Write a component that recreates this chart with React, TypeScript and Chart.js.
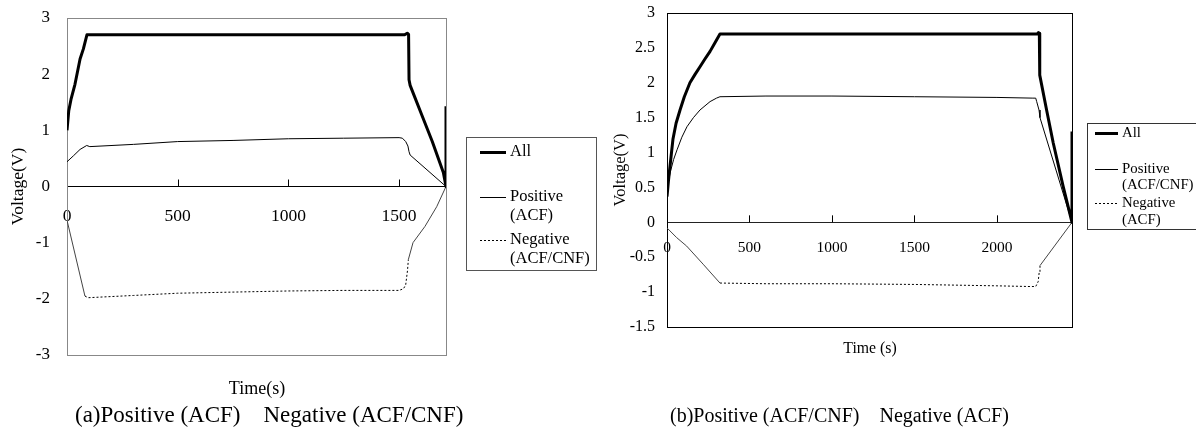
import React, { useEffect, useRef } from 'react';
import { Chart, registerables } from 'chart.js';

Chart.register(...registerables);

const SERIF = "'Liberation Serif', 'Times New Roman', Times, serif";

// ---------- (a) Positive (ACF) / Negative (ACF/CNF) ----------
const timeA_all = [0, 8, 18, 36, 59, 74, 90, 500, 1000, 1525, 1537, 1543, 1545, 1550, 1570, 1600, 1650, 1700, 1712, 1712];
const voltA_all = [1.0, 1.35, 1.55, 1.82, 2.27, 2.45, 2.7, 2.7, 2.7, 2.7, 2.73, 2.71, 1.9, 1.8, 1.6, 1.3, 0.8, 0.25, 0, 1.43];

const timeA_pos = [0, 30, 59, 89, 103, 300, 500, 750, 1000, 1250, 1500, 1515, 1530, 1540, 1545, 1550, 1712];
const voltA_pos = [0.44, 0.55, 0.66, 0.73, 0.71, 0.75, 0.8, 0.82, 0.85, 0.86, 0.87, 0.86, 0.8, 0.72, 0.62, 0.56, 0];

const timeA_neg = [0, 81, 95, 300, 500, 750, 1000, 1250, 1500, 1520, 1530, 1538, 1542, 1563, 1617, 1670, 1712];
const voltA_neg = [-0.6, -1.95, -1.98, -1.94, -1.9, -1.88, -1.86, -1.85, -1.85, -1.82, -1.75, -1.5, -1.3, -1.0, -0.71, -0.36, 0];

const xMaxA = 1712;
const xTicksA = [0, 500, 1000, 1500];
const yTicksA = [-3, -2, -1, 0, 1, 2, 3];

// ---------- (b) Positive (ACF/CNF) / Negative (ACF) ----------
const timeB_all = [0, 9, 18, 36, 55, 79, 105, 139, 170, 200, 230, 261, 290, 321, 800, 1300, 1800, 2245, 2252, 2257, 2258, 2261, 2301, 2341, 2401, 2455, 2455];
const voltB_all = [0.37, 0.6, 0.8, 1.19, 1.42, 1.61, 1.8, 2.0, 2.12, 2.23, 2.34, 2.45, 2.57, 2.7, 2.7, 2.7, 2.7, 2.7, 2.72, 2.71, 2.19, 2.11, 1.61, 1.14, 0.52, 0, 1.3];

const timeB_pos = [0, 10, 20, 40, 61, 90, 121, 160, 200, 261, 300, 321, 600, 1000, 1500, 2000, 2218, 2235, 2241, 2255, 2261, 2455];
const voltB_pos = [0.45, 0.6, 0.72, 0.9, 1.04, 1.22, 1.37, 1.5, 1.61, 1.73, 1.78, 1.8, 1.81, 1.81, 1.8, 1.79, 1.78, 1.78, 1.73, 1.61, 1.5, 0];

const timeB_neg = [0, 59, 119, 219, 321, 600, 1000, 1500, 2000, 2200, 2235, 2250, 2256, 2261, 2455];
const voltB_neg = [-0.08, -0.22, -0.34, -0.6, -0.87, -0.88, -0.88, -0.89, -0.91, -0.92, -0.92, -0.85, -0.72, -0.62, 0];

const xMaxB = 2455;
const xTicksB = [0, 500, 1000, 1500, 2000];
const yTicksB = [-1.5, -1, -0.5, 0, 0.5, 1, 1.5, 2, 2.5, 3];

const toXY = (t: number[], v: number[]) => t.map((x, i) => ({ x, y: v[i] }));

const frameTicksPlugin = {
  id: 'frameTicks',
  beforeDatasetsDraw(chart: any, _a: any, o: any) {
    const { ctx, chartArea: ca, scales } = chart;
    ctx.save();
    ctx.strokeStyle = o.frameColor;
    ctx.lineWidth = o.frameWidth;
    ctx.strokeRect(Math.round(ca.left) + 0.5, Math.round(ca.top) + 0.5, Math.round(ca.right - ca.left), Math.round(ca.bottom - ca.top));
    const y0 = scales.y.getPixelForValue(0);
    ctx.strokeStyle = '#000';
    ctx.lineWidth = 1;
    scales.x.ticks.forEach((t: any) => {
      if (t.value === 0) return;
      const px = Math.round(scales.x.getPixelForValue(t.value)) + 0.5;
      ctx.beginPath();
      ctx.moveTo(px, y0);
      ctx.lineTo(px, y0 - o.tickLen);
      ctx.stroke();
    });
    ctx.restore();
  },
};

const boxLegendPlugin = {
  id: 'boxLegend',
  afterDraw(chart: any, _a: any, o: any) {
    const { ctx } = chart;
    ctx.save();
    ctx.strokeStyle = o.boxColor;
    ctx.lineWidth = 1;
    ctx.setLineDash([]);
    ctx.strokeRect(o.x + 0.5, o.y + 0.5, o.w, o.h);
    ctx.font = o.font;
    ctx.fillStyle = '#000';
    ctx.textBaseline = 'middle';
    ctx.textAlign = 'left';
    o.items.forEach((it: any) => {
      ctx.beginPath();
      ctx.strokeStyle = '#000';
      ctx.lineWidth = it.width;
      ctx.setLineDash(it.dash);
      ctx.moveTo(o.lineX0, it.ys[0] + 0.5);
      ctx.lineTo(o.lineX1, it.ys[0] + 0.5);
      ctx.stroke();
      it.lines.forEach((s: string, i: number) => ctx.fillText(s, o.textX, it.ys[i]));
    });
    ctx.restore();
  },
};

function buildConfig(c: any): any {
  const solid = (ctx: any) => ctx.p1DataIndex <= c.negHeadEnd || ctx.p0DataIndex >= c.negTailStart;
  return {
    type: 'line',
    data: {
      datasets: [
        { label: 'All', data: c.all, borderColor: '#000', borderWidth: 3, pointRadius: 0, tension: 0, fill: false, borderJoinStyle: 'round' },
        { label: 'Positive', data: c.pos, borderColor: '#000', borderWidth: 1, pointRadius: 0, tension: 0, fill: false },
        {
          label: 'Negative',
          data: c.neg,
          borderColor: '#000',
          borderWidth: 1,
          pointRadius: 0,
          tension: 0,
          fill: false,
          segment: {
            borderDash: (ctx: any) => (solid(ctx) ? [] : [2, 2]),
            borderColor: (ctx: any) => (solid(ctx) ? '#444' : '#000'),
          },
        },
      ],
    },
    options: {
      animation: false,
      responsive: false,
      maintainAspectRatio: false,
      layout: { padding: c.padding },
      plugins: {
        legend: { display: false },
        tooltip: { enabled: false },
        frameTicks: { frameColor: c.frameColor, frameWidth: 1, tickLen: 7 },
        boxLegend: c.legend,
      },
      scales: {
        x: {
          type: 'linear',
          min: 0,
          max: c.xMax,
          position: { y: 0 },
          grid: { display: false, drawTicks: false },
          border: { display: true, color: c.zeroColor, width: 1 },
          afterBuildTicks: (s: any) => {
            s.ticks = c.xTicks.map((v: number) => ({ value: v }));
          },
          ticks: {
            autoSkip: false,
            maxRotation: 0,
            padding: c.xTickPad,
            color: '#000',
            font: { family: SERIF, size: c.xTickSize },
            callback: (v: any) => String(v),
          },
        },
        y: {
          type: 'linear',
          min: c.yTicks[0],
          max: c.yTicks[c.yTicks.length - 1],
          grid: {
            display: true,
            drawOnChartArea: false,
            drawTicks: true,
            tickLength: c.yTickGap,
            color: 'rgba(0,0,0,0)',
          },
          border: { display: true, color: '#000', width: 1 },
          afterBuildTicks: (s: any) => {
            s.ticks = c.yTicks.map((v: number) => ({ value: v }));
          },
          ticks: {
            autoSkip: false,
            padding: 0,
            color: '#000',
            font: { family: SERIF, size: c.yTickSize },
            callback: (v: any) => String(v),
          },
          title: {
            display: true,
            text: 'Voltage(V)',
            color: '#000',
            font: { family: SERIF, size: c.titleSize },
            padding: { top: c.titlePad, bottom: 0 },
          },
          afterFit: (s: any) => {
            s.width = c.yWidth;
          },
        },
      },
    },
    plugins: [frameTicksPlugin, boxLegendPlugin],
  };
}

const W_A = 612;
const LEFT_B = 590;
const W_B = 1196 - LEFT_B;

export default function App() {
  const refA = useRef<HTMLCanvasElement>(null);
  const refB = useRef<HTMLCanvasElement>(null);

  useEffect(() => {
    document.body.style.margin = '0';
    const cfgA = buildConfig({
      all: toXY(timeA_all, voltA_all),
      pos: toXY(timeA_pos, voltA_pos),
      neg: toXY(timeA_neg, voltA_neg),
      negHeadEnd: 1,
      negTailStart: 12,
      xMax: xMaxA,
      xTicks: xTicksA,
      yTicks: yTicksA,
      padding: { left: 0, top: 18, right: W_A - 446, bottom: 431 - 355 },
      yWidth: 67,
      yTickSize: 17,
      yTickGap: 17,
      xTickSize: 17.5,
      xTickPad: 19,
      titleSize: 17.5,
      titlePad: 8,
      frameColor: '#888',
      zeroColor: '#000',
      legend: {
        x: 466,
        y: 137,
        w: 130,
        h: 133,
        boxColor: '#555',
        font: `16.5px ${SERIF}`,
        lineX0: 480,
        lineX1: 506,
        textX: 510,
        items: [
          { lines: ['All'], ys: [152], width: 3, dash: [] },
          { lines: ['Positive', '(ACF)'], ys: [197, 216], width: 1, dash: [] },
          { lines: ['Negative', '(ACF/CNF)'], ys: [240, 259], width: 1, dash: [2, 2] },
        ],
      },
    });
    const cfgB = buildConfig({
      all: toXY(timeB_all, voltB_all),
      pos: toXY(timeB_pos, voltB_pos),
      neg: toXY(timeB_neg, voltB_neg),
      negHeadEnd: 4,
      negTailStart: 13,
      xMax: xMaxB,
      xTicks: xTicksB,
      yTicks: yTicksB,
      padding: { left: 0, top: 13, right: 1196 - 1072, bottom: 431 - 327 },
      yWidth: 667 - LEFT_B,
      yTickSize: 16,
      yTickGap: 12,
      xTickSize: 15.5,
      xTickPad: 16,
      titleSize: 16.5,
      titlePad: 21,
      frameColor: '#000',
      zeroColor: '#222',
      legend: {
        x: 1087 - LEFT_B,
        y: 123,
        w: 130,
        h: 106,
        boxColor: '#333',
        font: `14.8px ${SERIF}`,
        lineX0: 1095 - LEFT_B,
        lineX1: 1118 - LEFT_B,
        textX: 1122 - LEFT_B,
        items: [
          { lines: ['All'], ys: [133], width: 3, dash: [] },
          { lines: ['Positive', '(ACF/CNF)'], ys: [169, 185], width: 1, dash: [] },
          { lines: ['Negative', '(ACF)'], ys: [203, 220], width: 1, dash: [2, 2] },
        ],
      },
    });
    const a = new Chart(refA.current as HTMLCanvasElement, cfgA);
    const b = new Chart(refB.current as HTMLCanvasElement, cfgB);
    return () => {
      a.destroy();
      b.destroy();
    };
  }, []);

  const txt = (extra: React.CSSProperties): React.CSSProperties => ({
    position: 'absolute',
    fontFamily: SERIF,
    color: '#000',
    whiteSpace: 'pre',
    lineHeight: 1,
    ...extra,
  });

  return (
    <div style={{ position: 'relative', width: 1196, height: 431, background: '#fff', overflow: 'hidden' }}>
      <canvas ref={refA} width={W_A} height={431} style={{ position: 'absolute', left: 0, top: 0 }} />
      <canvas ref={refB} width={W_B} height={431} style={{ position: 'absolute', left: LEFT_B, top: 0 }} />
      <div style={txt({ left: 257, top: 388, fontSize: 18, transform: 'translate(-50%, -50%)' })}>Time(s)</div>
      <div style={txt({ left: 75, top: 414, fontSize: 23, transform: 'translateY(-50%)' })}>
        {'(a)Positive (ACF)    Negative (ACF/CNF)'}
      </div>
      <div style={txt({ left: 870, top: 348, fontSize: 15.8, transform: 'translate(-50%, -50%)' })}>Time (s)</div>
      <div style={txt({ left: 670, top: 415, fontSize: 20, transform: 'translateY(-50%)' })}>
        {'(b)Positive (ACF/CNF)    Negative (ACF)'}
      </div>
    </div>
  );
}
